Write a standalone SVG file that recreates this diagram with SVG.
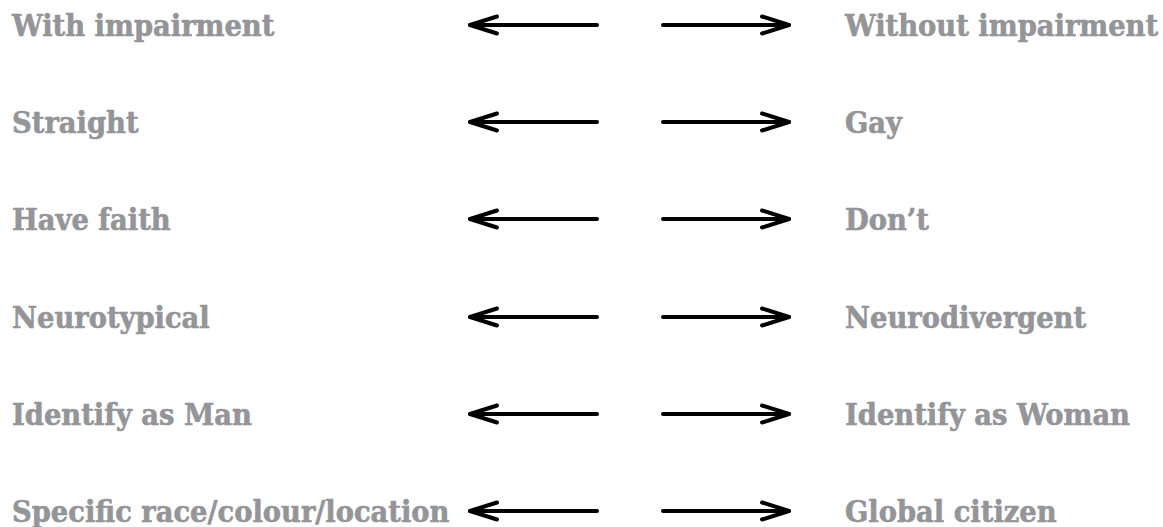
<svg xmlns="http://www.w3.org/2000/svg" width="1163" height="527" viewBox="0 0 1163 527">
  <style>
    .label { font-family: "DejaVu Serif Condensed", "DejaVu Serif", "Liberation Serif", serif; font-stretch: condensed; font-weight: bold; font-size: 30.4px; fill: #939598; stroke: #939598; stroke-width: 0.6; stroke-linejoin: round; }
    .arrow { stroke: #000; stroke-width: 4; stroke-linecap: round; fill: none; marker-end: url(#head); }
  </style>
  <defs>
    <marker id="head" markerUnits="userSpaceOnUse" viewBox="-32 -12 36 24" markerWidth="36" markerHeight="24" refX="0" refY="0" orient="auto" overflow="visible">
      <path d="M-27,-8.5 L0,0 L-27,8.5" stroke="#000" stroke-width="4" stroke-linecap="round" stroke-linejoin="round" fill="none"/>
    </marker>
  </defs>
  <rect width="1163" height="527" fill="#fff"/>

  <!-- left-hand labels -->
  <g id="left-impairment"><text class="label" x="12" y="36">With impairment</text></g>
  <g id="left-straight"><text class="label" x="12" y="133">Straight</text></g>
  <g id="left-faith"><text class="label" x="12" y="230">Have faith</text></g>
  <g id="left-neurotypical"><text class="label" x="12" y="328">Neurotypical</text></g>
  <g id="left-man"><text class="label" x="12" y="425">Identify as Man</text></g>
  <g id="left-race"><text class="label" x="12" y="522">Specific race/colour/location</text></g>

  <!-- right-hand labels -->
  <g id="right-impairment"><text class="label" x="845" y="36">Without impairment</text></g>
  <g id="right-gay"><text class="label" x="845" y="133">Gay</text></g>
  <g id="right-faith"><text class="label" x="845" y="230">Don’t</text></g>
  <g id="right-neurodivergent"><text class="label" x="845" y="328">Neurodivergent</text></g>
  <g id="right-woman"><text class="label" x="845" y="425">Identify as Woman</text></g>
  <g id="right-global"><text class="label" x="845" y="522">Global citizen</text></g>

  <!-- spectrum arrows -->
  <g id="connectors">
    <line class="arrow" x1="597" y1="25" x2="470" y2="25"/>
    <line class="arrow" x1="663" y1="25" x2="789" y2="25"/>
    <line class="arrow" x1="597" y1="122" x2="470" y2="122"/>
    <line class="arrow" x1="663" y1="122" x2="789" y2="122"/>
    <line class="arrow" x1="597" y1="219" x2="470" y2="219"/>
    <line class="arrow" x1="663" y1="219" x2="789" y2="219"/>
    <line class="arrow" x1="597" y1="317" x2="470" y2="317"/>
    <line class="arrow" x1="663" y1="317" x2="789" y2="317"/>
    <line class="arrow" x1="597" y1="414" x2="470" y2="414"/>
    <line class="arrow" x1="663" y1="414" x2="789" y2="414"/>
    <line class="arrow" x1="597" y1="511" x2="470" y2="511"/>
    <line class="arrow" x1="663" y1="511" x2="789" y2="511"/>
  </g>
</svg>
